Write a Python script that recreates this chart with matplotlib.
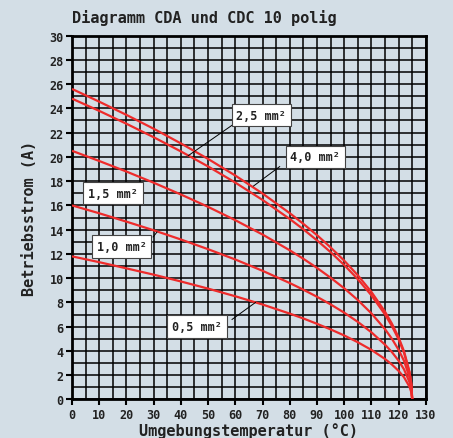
import numpy as np
import matplotlib
matplotlib.use("Agg")
import matplotlib.pyplot as plt

# temperature points (°C) and read-off current (A) for each cross-section
temps = [0, 10, 20, 30, 40, 50, 60, 70, 80, 85, 90, 95, 100, 105, 110, 115, 117.5, 120, 122, 124, 124.7, 125]
i_4_0 = [25.60, 24.55, 23.46, 22.32, 21.11, 19.83, 18.46, 16.98, 15.36, 14.48, 13.55,
         12.54, 11.45, 10.24, 8.87, 7.24, 6.27, 5.12, 3.97, 2.29, 1.25, 0]
i_2_5 = [24.80, 23.79, 22.73, 21.62, 20.45, 19.21, 17.88, 16.45, 14.88, 14.03, 13.12,
         12.15, 11.09, 9.92, 8.59, 7.01, 6.07, 4.96, 3.84, 2.22, 1.22, 0]
i_1_5 = [20.50, 19.66, 18.79, 17.87, 16.90, 15.88, 14.78, 13.60, 12.30, 11.60, 10.85,
         10.04, 9.17, 8.20, 7.10, 5.80, 5.02, 4.10, 3.18, 1.83, 1.00, 0]
i_1_0 = [16.00, 15.35, 14.66, 13.95, 13.19, 12.39, 11.54, 10.61, 9.60, 9.05, 8.47,
         7.84, 7.16, 6.40, 5.54, 4.52, 3.92, 3.20, 2.48, 1.43, 0.78, 0]
i_0_5 = [11.80, 11.32, 10.81, 10.29, 9.73, 9.14, 8.51, 7.83, 7.08, 6.68, 6.24,
         5.78, 5.28, 4.72, 4.09, 3.34, 2.89, 2.36, 1.83, 1.05, 0.58, 0]

labels = ["4,0 mm²", "2,5 mm²", "1,5 mm²", "1,0 mm²", "0,5 mm²"]
# label box centre, leader start, leader end (data coords)
label_pos = {
    "2,5 mm²": ((69.5, 23.45), (59.4, 22.7), (42.7, 20.1)),
    "4,0 mm²": ((89.4, 20.0), (76.3, 19.2), (66.7, 17.6)),
    "1,5 mm²": ((15.1, 17.0), None, None),
    "1,0 mm²": ((18.2, 12.6), (29.8, 13.4), (31.2, 13.8)),
    "0,5 mm²": ((45.9, 6.0), (58.8, 6.6), (67.4, 8.0)),
}

bg = "#d3dee6"
red = "#ee2b2b"
font = "DejaVu Sans Mono"

fig = plt.figure(figsize=(4.53, 4.39), dpi=100, facecolor=bg)
ax = fig.add_axes([0.159, 0.0877, 0.781, 0.829])
ax.set_facecolor(bg)

ax.set_xlim(0, 130)
ax.set_ylim(0, 30)
ax.set_xticks(np.arange(0, 131, 5), minor=True)
ax.set_yticks(np.arange(0, 31, 1), minor=True)
ax.set_xticks(np.arange(0, 131, 10))
ax.set_yticks(np.arange(0, 31, 2))
ax.grid(True, which="both", color="black", linewidth=1.1)
ax.set_axisbelow(True)

for s in ax.spines.values():
    s.set_linewidth(2)
ax.tick_params(which="minor", length=0)
ax.tick_params(which="major", length=4, width=1.5, direction="out", pad=2)
for lab in ax.get_xticklabels() + ax.get_yticklabels():
    lab.set_fontfamily(font)
    lab.set_fontweight("bold")
    lab.set_fontsize(8.5)
    lab.set_color("#222222")

for ys in [i_4_0, i_2_5, i_1_5, i_1_0, i_0_5]:
    ax.plot(temps, ys, color=red, linewidth=1.6, solid_capstyle="butt", zorder=3)

for lab in labels:
    (cx, cy), p0, p1 = label_pos[lab]
    if p0 is not None:
        ax.plot([p0[0], p1[0]], [p0[1], p1[1]], color="black", linewidth=0.7, zorder=4)
    ax.text(cx, cy, lab, ha="center", va="center", fontsize=8.5, fontweight="bold",
            family=font, color="#222222", zorder=5,
            bbox=dict(boxstyle="square,pad=0.4", facecolor="white", edgecolor="#444444", linewidth=0.8))

fig.text(0.159, 0.958, "Diagramm CDA und CDC 10 polig", ha="left", va="center",
         fontsize=11, fontweight="bold", family=font, color="#222222")
ax.set_xlabel("Umgebungstemperatur (°C)", fontsize=11, fontweight="bold", family=font,
              color="#222222", labelpad=1)
ax.set_ylabel("Betriebsstrom (A)", fontsize=11, fontweight="bold", family=font,
              color="#222222", labelpad=9)

fig.savefig("out.png", dpi=100, facecolor=bg)
